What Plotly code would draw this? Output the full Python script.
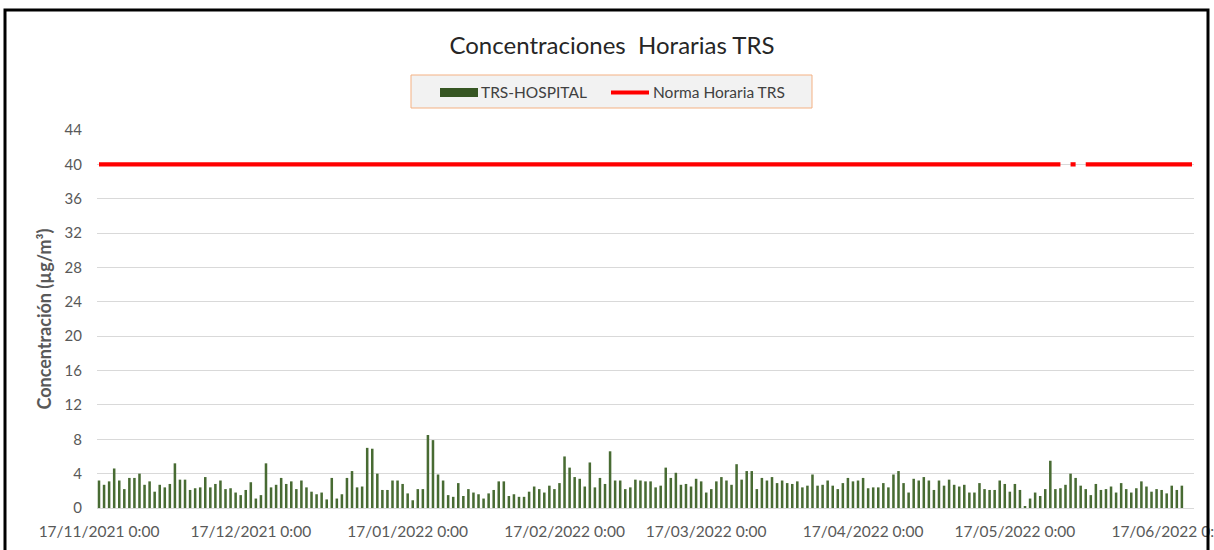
import pandas as pd
import plotly.graph_objects as go

# ---------------- data ----------------
START_DATE = "2021-11-17"
N_DAYS = 217
dates = pd.date_range(START_DATE, periods=N_DAYS, freq="D")

trs_hospital = [
    3.2, 2.7, 3.1, 4.6, 3.2, 2.2, 3.5, 3.5, 4.0, 2.7, 3.1, 1.9, 2.7, 2.4, 2.8, 5.2,
    3.3, 3.3, 2.1, 2.3, 2.4, 3.6, 2.4, 2.8, 3.2, 2.2, 2.3, 1.8, 1.5, 2.1, 3.0, 1.1,
    1.5, 5.2, 2.4, 2.7, 3.5, 2.8, 3.1, 2.2, 3.2, 2.4, 1.9, 1.6,
    1.8, 1.0, 3.5, 1.1, 1.6, 3.5, 4.3, 2.4, 2.5, 7.0, 6.9, 4.0, 2.1, 2.1, 3.2, 3.2,
    2.8, 1.7, 0.9, 2.2, 2.2, 8.5, 7.9, 3.9, 3.2, 1.5, 1.3, 2.9, 1.4, 2.2, 1.8, 1.6,
    1.1, 1.7, 2.1, 3.1, 3.1, 1.4, 1.6, 1.3, 1.3, 1.9, 2.5, 2.2,
    1.8, 2.6, 2.2, 2.9, 6.0, 4.7, 3.6, 3.4, 2.5, 5.3, 2.4, 3.5, 2.8, 6.6, 3.2, 3.2,
    2.2, 2.4, 3.3, 3.2, 3.1, 3.1, 2.4, 2.6, 4.7, 3.5, 4.1, 2.7, 2.8, 2.5, 3.4, 3.1,
    1.8, 2.2, 3.1, 3.6, 3.2, 2.7, 5.1, 3.3, 4.3, 4.3, 2.2,
    3.5, 3.2, 3.6, 2.9, 3.2, 2.9, 2.8, 3.1, 2.4, 2.6, 3.9, 2.6, 2.7, 3.2, 2.6, 2.2,
    2.9, 3.5, 3.1, 3.2, 3.5, 2.3, 2.4, 2.4, 2.9, 2.4, 3.9, 4.3, 2.9, 1.8, 3.4, 3.2,
    3.6, 3.2, 2.1, 3.2, 2.6, 3.3, 2.7, 2.5, 2.7, 1.8, 1.8, 2.9,
    2.2, 2.1, 2.1, 3.2, 2.8, 1.9, 2.8, 2.1, 0.15, 1.1, 1.8, 1.4, 2.2, 5.5, 2.2, 2.3,
    2.7, 4.0, 3.5, 2.6, 2.2, 1.5, 2.8, 2.1, 2.2, 2.5, 1.8, 2.9, 2.2, 1.8, 2.3, 3.1,
    2.5, 1.9, 2.2, 2.1, 1.7, 2.6, 2.1, 2.6,
    None, None,
]

NORMA_TRS = 40
norma_missing_days = [191, 194]   # days with no norm value plotted
norma_horaria = [None if i in norma_missing_days else NORMA_TRS for i in range(N_DAYS)]

tick_dates = ["2021-11-17", "2021-12-17", "2022-01-17", "2022-02-17",
              "2022-03-17", "2022-04-17", "2022-05-17", "2022-06-17"]
tick_labels = ["17/11/2021 0:00", "17/12/2021 0:00", "17/01/2022 0:00", "17/02/2022 0:00",
               "17/03/2022 0:00", "17/04/2022 0:00", "17/05/2022 0:00", "17/06/2022 0:00"]
y_ticks = list(range(0, 45, 4))

# ---------------- layout helpers ----------------
W, H = 1214, 550
PL, PR, PT, PB = 97, 1194, 130, 508   # plot area in pixels


def px_x(x):
    return (x - PL) / (PR - PL)


def px_y(y):
    return (PB - y) / (PB - PT)


FONT = "Lato"
GRAY = "#595959"

fig = go.Figure()
fig.add_trace(go.Bar(
    x=dates, y=trs_hospital, name="TRS-HOSPITAL",
    marker=dict(color="#486B33", line=dict(width=0)),
    width=0.5 * 86400000, showlegend=False,
))
fig.add_trace(go.Scatter(
    x=dates, y=norma_horaria, name="Norma Horaria TRS", mode="lines",
    line=dict(color="#FF0000", width=4.3), connectgaps=False, showlegend=False,
))

x_lo = pd.Timestamp(START_DATE) - pd.Timedelta(hours=9.5)
x_hi = pd.Timestamp(START_DATE) + pd.Timedelta(days=N_DAYS - 1) + pd.Timedelta(hours=9.5)

shapes = [
    # chart frame
    dict(type="rect", xref="paper", yref="paper",
         x0=px_x(5), x1=px_x(1208), y0=px_y(575), y1=px_y(10),
         line=dict(color="#000000", width=3), fillcolor="rgba(0,0,0,0)", layer="above"),
    # legend box
    dict(type="rect", xref="paper", yref="paper",
         x0=px_x(411), x1=px_x(812), y0=px_y(108), y1=px_y(75),
         line=dict(color="#F4B183", width=1), fillcolor="#F2F2F2"),
    dict(type="rect", xref="paper", yref="paper",
         x0=px_x(440), x1=px_x(478), y0=px_y(97), y1=px_y(88),
         line=dict(width=0), fillcolor="#375623"),
    dict(type="line", xref="paper", yref="paper",
         x0=px_x(611), x1=px_x(649), y0=px_y(92.5), y1=px_y(92.5),
         line=dict(color="#FF0000", width=4)),
]

annotations = [
    dict(text="TRS-HOSPITAL", xref="paper", yref="paper", x=px_x(479), y=px_y(92.5),
         xanchor="left", yanchor="middle", showarrow=False,
         font=dict(family=FONT, size=15.5, color="#404040")),
    dict(text="Norma Horaria TRS", xref="paper", yref="paper", x=px_x(651), y=px_y(92.5),
         xanchor="left", yanchor="middle", showarrow=False,
         font=dict(family=FONT, size=15.5, color="#404040")),
]

fig.update_layout(
    width=W, height=H,
    margin=dict(l=PL, r=W - PR, t=PT, b=H - PB, autoexpand=False),
    paper_bgcolor="white", plot_bgcolor="white",
    title=dict(text="Concentraciones\u00a0 Horarias TRS", x=612 / W, xref="container",
               y=1 - 46 / H, yref="container", xanchor="center", yanchor="middle",
               font=dict(family=FONT, size=24, color="#262626")),
    showlegend=False,
    bargap=0.5,
    shapes=shapes,
    annotations=annotations,
    xaxis=dict(
        type="date", range=[x_lo, x_hi], automargin=False,
        tickvals=tick_dates, ticktext=tick_labels,
        tickfont=dict(family=FONT, size=15.5, color=GRAY),
        showgrid=False, showline=False, zeroline=False, ticks="",
        ticklabelstandoff=12, ticklabeloverflow="allow",
    ),
    yaxis=dict(
        range=[0, 44], tickvals=y_ticks, automargin=False,
        tickfont=dict(family=FONT, size=15, color=GRAY),
        showgrid=True, gridcolor="#D9D9D9", gridwidth=1,
        zeroline=True, zerolinecolor="#D9D9D9", zerolinewidth=1,
        showline=False, ticks="", ticklabelstandoff=14,
        title=dict(text="Concentración (µg/m³)", standoff=8,
                   font=dict(family=FONT, size=18, color=GRAY, weight="bold")),
    ),
)

fig.write_html("out.html", config={"displayModeBar": False},
               post_script="document.body.style.margin='0';")
